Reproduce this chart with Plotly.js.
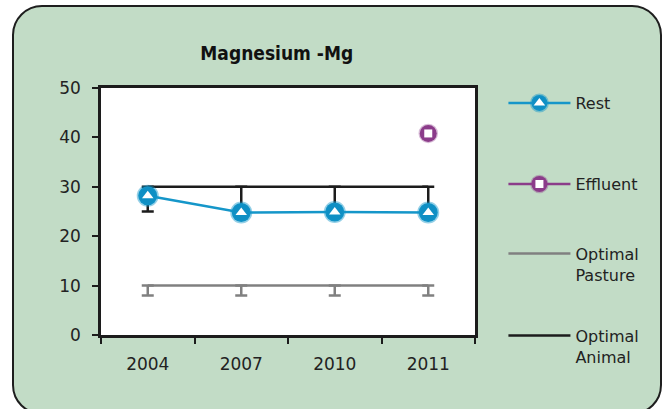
<!DOCTYPE html>
<html>
<head>
<meta charset="utf-8">
<script src="https://cdn.plot.ly/plotly-3.0.1.min.js"></script>
<style>
  body { margin: 0; background: #fff; }
  #box {
    position: absolute; left: 12px; top: 5px; width: 646px; height: 406px;
    background: #c2dcc6; border: 2px solid #1e1e1e; border-radius: 30px;
  }
  #chart { position: absolute; left: 0; top: 0; width: 667px; height: 409px; }
</style>
</head>
<body>
<div id="box"></div>
<div id="chart"></div>
<script>
// years on the x axis
var years = ["2004", "2007", "2010", "2011"];

// Mg values
var rest = [28.2, 24.8, 24.9, 24.8];
var effluent = [null, null, null, 40.8];
var optimalPasture = [10, 10, 10, 10];
var optimalPastureLow = [2, 2, 2, 2];   // drop down to 8
var optimalAnimal = [30, 30, 30, 30];
var optimalAnimalLow = [5, 5, 5, 5];    // drop down to 25

var blue = "#1596c9", purple = "#8b3c8a", grey = "#808080", black = "#1c1c1c";
var txt = "#222";

var pasture = {
  x: years, y: optimalPasture, name: "Optimal<br>Pasture", mode: "lines",
  line: {color: grey, width: 2.5},
  error_y: {type: "data", symmetric: false, array: [0, 0, 0, 0], arrayminus: optimalPastureLow,
            color: grey, thickness: 2.5, width: 6},
  legend: "legend3", hoverinfo: "y"
};
var animal = {
  x: years, y: optimalAnimal, name: "Optimal<br>Animal", mode: "lines",
  line: {color: black, width: 2.5},
  error_y: {type: "data", symmetric: false, array: [0, 0, 0, 0], arrayminus: optimalAnimalLow,
            color: black, thickness: 2.5, width: 6},
  legend: "legend4", hoverinfo: "y"
};
var restTrace = {
  x: years, y: rest, name: "Rest", mode: "lines+markers",
  line: {color: blue, width: 2.5},
  marker: {symbol: "circle", size: 19, color: "#0f8fc4", line: {color: "rgba(21,150,201,0.45)", width: 3}},
  legend: "legend"
};
var restInner = {
  x: years, y: rest, name: "", mode: "markers",
  marker: {symbol: "triangle-up", size: 10, color: "#fff"},
  legend: "legend5", hoverinfo: "skip"
};
var effTrace = {
  x: years, y: effluent, name: "Effluent", mode: "lines+markers",
  line: {color: purple, width: 2.5},
  marker: {symbol: "circle", size: 17, color: purple, line: {color: "rgba(139,60,138,0.35)", width: 2.5}},
  legend: "legend2"
};
var effInner = {
  x: years, y: effluent, name: "", mode: "markers",
  marker: {symbol: "square", size: 8, color: "#fff"},
  legend: "legend6", hoverinfo: "skip"
};

var data = [pasture, animal, restTrace, restInner, effTrace, effInner];

function leg(y) {
  return {x: 1.076, xanchor: "left", y: y, yanchor: "middle", bgcolor: "rgba(0,0,0,0)",
          itemwidth: 62, valign: "top", font: {family: "DejaVu Sans", size: 16, color: txt}};
}

var layout = {
  width: 667, height: 409,
  margin: {l: 101, r: 192, t: 88, b: 74},
  paper_bgcolor: "rgba(0,0,0,0)",
  plot_bgcolor: "#fff",
  title: {text: "<b>Magnesium -Mg</b>", x: 0.415, xanchor: "center", y: 0.87, yanchor: "middle",
          font: {family: "DejaVu Sans Condensed, DejaVu Sans", size: 19, color: "#111"}},
  xaxis: {
    type: "category", range: [-0.5, 3.5], tickson: "boundaries",
    ticks: "outside", ticklen: 6, tickwidth: 1.5, tickcolor: black,
    showline: true, mirror: true, linecolor: black, linewidth: 2.5,
    showgrid: false, ticklabelstandoff: 12,
    tickfont: {family: "DejaVu Sans", size: 17, color: txt}
  },
  yaxis: {
    range: [0, 50], dtick: 10, ticks: "outside", ticklen: 6, tickwidth: 1.5, tickcolor: black,
    showline: true, mirror: true, linecolor: black, linewidth: 2.5,
    showgrid: false, zeroline: false, ticklabelstandoff: 8,
    tickfont: {family: "DejaVu Sans", size: 17, color: txt}
  },
  legend: leg(0.939),
  legend2: leg(0.611),
  legend3: leg(0.287),
  legend4: leg(-0.045),
  legend5: leg(0.939),
  legend6: leg(0.611),
  showlegend: true
};

Plotly.newPlot("chart", data, layout, {displayModeBar: false});
</script>
</body>
</html>
